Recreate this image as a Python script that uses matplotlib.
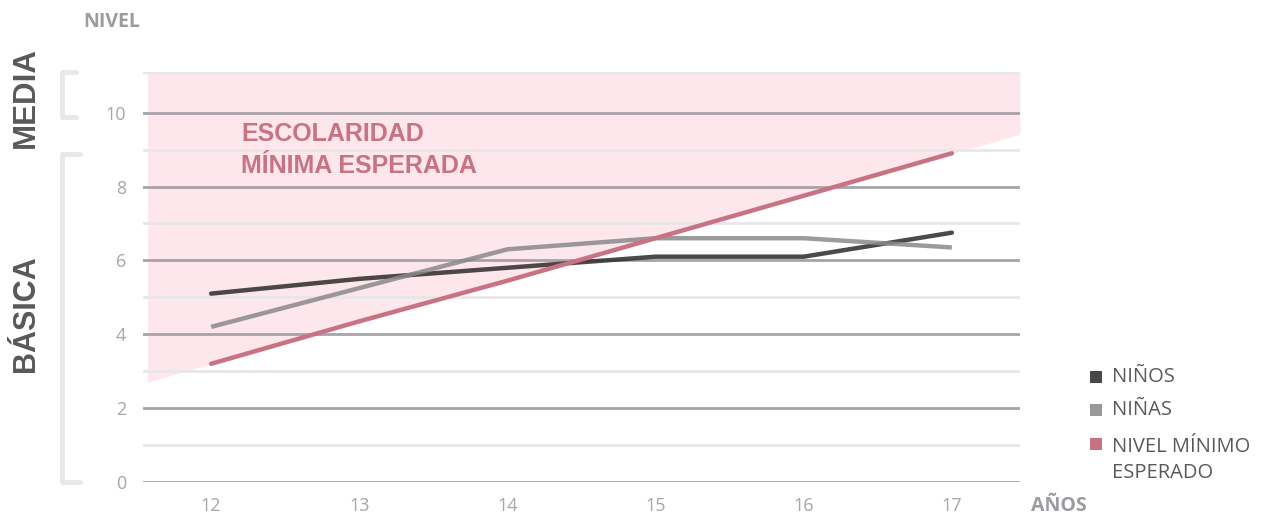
import numpy as np
import matplotlib.pyplot as plt
from matplotlib.lines import Line2D
from matplotlib.patches import Rectangle

edades = [12, 13, 14, 15, 16, 17]
ninos = [5.1, 5.5, 5.8, 6.1, 6.1, 6.75]
ninas = [4.2, 5.25, 6.3, 6.6, 6.6, 6.35]
nivelMinimo = [3.2, 4.35, 5.45, 6.6, 7.75, 8.9]
nombresSeries = ['NIÑOS', 'NIÑAS', 'NIVEL MÍNIMO\nESPERADO']
coloresSeries = ['#4a4747', '#999999', '#c87382']
ticksY = [0, 2, 4, 6, 8, 10]

plt.rcParams['font.family'] = ['Open Sans', 'DejaVu Sans']

ANCHO, ALTO = 1262, 514

def px(x, y):
    # pixeles (origen arriba a la izquierda) -> fraccion de figura
    return x / ANCHO, 1 - y / ALTO

fig = plt.figure(figsize=(ANCHO / 100, ALTO / 100), dpi=100)
ax = fig.add_axes([143 / ANCHO, 32 / ALTO, 877 / ANCHO, 410 / ALTO])
xMin, xMax = 11.54, 17.46
yMax = 11.1
ax.set_xlim(xMin, xMax)
ax.set_ylim(0, yMax)

# zona rosa sobre la recta del nivel minimo
pendiente, intercepto = np.polyfit(edades, nivelMinimo, 1)
xRelleno = np.array([11.57, xMax])
ax.fill_between(xRelleno, pendiente * xRelleno + intercepto, yMax,
                color='#fde6ec', lw=0, zorder=0)

# lineas de cuadricula
for v in range(0, 11):
    color = '#a7a3a9' if v % 2 == 0 else '#e8e6e8'
    ax.axhline(v, color=color, lw=2, zorder=1)
ax.axhline(yMax, color='#e8e6e8', lw=2.5, zorder=1)

# series
ax.plot(edades, ninos, color='#333030', alpha=0.88, lw=3.2, solid_capstyle='round', zorder=3)
ax.plot(edades, ninas, color='#8a8a8a', alpha=0.85, lw=3.2, solid_capstyle='butt', zorder=3)
ax.plot(edades, nivelMinimo, color=coloresSeries[2], lw=3.2, solid_capstyle='round', zorder=4)

for s in ax.spines.values():
    s.set_visible(False)
ax.set_xticks(edades)
ax.set_yticks(ticksY)
ax.tick_params(length=0, labelsize=13, labelcolor='#a6a6a6')
ax.tick_params(axis='y', pad=12)
ax.tick_params(axis='x', pad=11)

# texto dentro de la zona rosa
fig.text(*px(241, 150), 'ESCOLARIDAD\nMÍNIMA ESPERADA', ha='left', va='center',
         fontsize=18, fontweight='bold', color='#c87382',
         family=['Liberation Sans', 'DejaVu Sans'], linespacing=1.45)

# titulos de ejes
fig.text(*px(83, 22), 'NIVEL', ha='left', va='center', fontsize=14,
         fontweight='bold', color='#9b9ba0')
fig.text(*px(1031, 506), 'AÑOS', ha='left', va='center', fontsize=14,
         fontweight='bold', color='#9b9ba0')

# niveles educativos a la izquierda
fig.text(*px(26, 98), 'MEDIA', rotation=90, ha='center', va='center', fontsize=22.5,
         fontweight='bold', color='#595959', family=['Liberation Sans', 'DejaVu Sans'])
fig.text(*px(26, 314), 'BÁSICA', rotation=90, ha='center', va='center', fontsize=22,
         fontweight='bold', color='#595959', family=['Liberation Sans', 'DejaVu Sans'])

def corchete(yArriba, yAbajo, xFin):
    xs = [xFin, 62, 62, xFin]
    ys = [yArriba, yArriba, yAbajo, yAbajo]
    pts = [px(x, y) for x, y in zip(xs, ys)]
    fig.add_artist(Line2D([p[0] for p in pts], [p[1] for p in pts],
                          transform=fig.transFigure, color='#e8e8ea', lw=3.5,
                          solid_joinstyle='round', solid_capstyle='round'))

corchete(72, 117, 76)
corchete(154, 482, 80)

# leyenda
posicionesY = [377, 410, 444]
for nombre, color, yl in zip(nombresSeries, coloresSeries, posicionesY):
    x0, y0 = px(1090, yl + 6)
    fig.add_artist(Rectangle((x0, y0), 12 / ANCHO, 12 / ALTO, transform=fig.transFigure,
                             color=color, lw=0))
    if '\n' in nombre:
        fig.text(*px(1112, yl - 7), nombre, ha='left', va='top',
                 fontsize=14.5, color='#595959', linespacing=1.4)
    else:
        fig.text(*px(1112, yl), nombre, ha='left', va='center',
                 fontsize=14.5, color='#595959')

fig.savefig('out.png', dpi=100)
